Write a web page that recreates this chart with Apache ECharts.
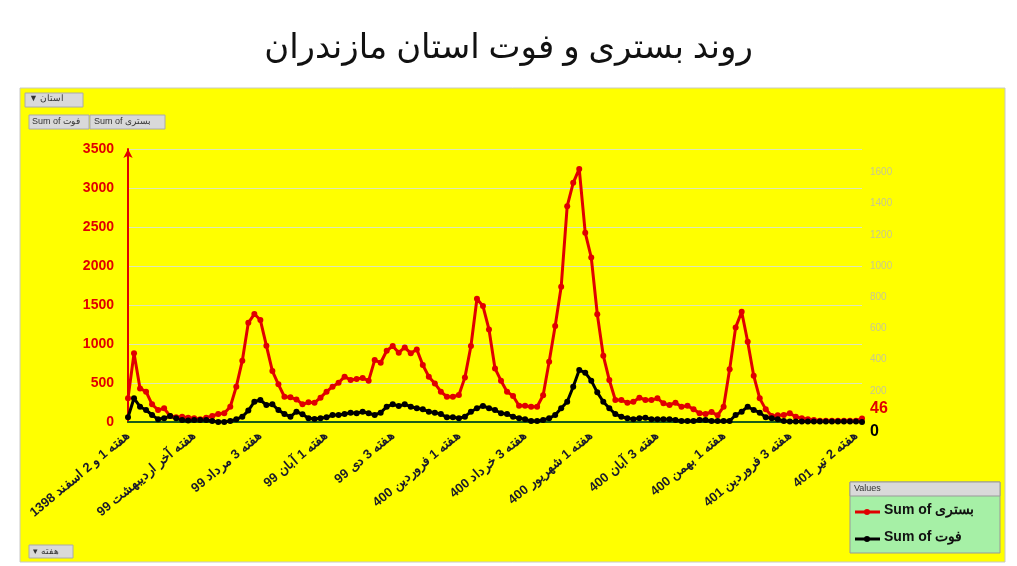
<!DOCTYPE html>
<html><head><meta charset="utf-8">
<script src="https://cdn.jsdelivr.net/npm/echarts@6/dist/echarts.min.js"></script>
<style>html,body{margin:0;padding:0;background:#fff}#c{width:1017px;height:566px}</style>
</head><body><div id="c"></div>
<script>
const tickLabels = ["هفته 1 و 2 اسفند 1398","هفته آخر اردیبهشت 99","هفته 3 مرداد 99","هفته 1 آبان 99","هفته 3 دی 99","هفته 1 فروردین 400","هفته 3 خرداد 400","هفته 1 شهریور 400","هفته 3 آبان 400","هفته 1 بهمن 400","هفته 3 فروردین 401","هفته 2 تیر 401"];
const hospitalized = [303,880,431,389,226,154,175,77,60,68,55,47,34,55,77,102,111,196,453,786,1272,1384,1307,978,653,483,324,316,290,226,252,248,312,389,453,504,581,538,551,564,530,794,
760,914,974,888,956,880,931,730,581,495,389,324,324,346,572,974,1580,1486,1187,687,530,389,333,209,209,196,196,342,773,1230,1734,2767,3066,3245,2425,2109,1383,850,538,282,282,248,
260,312,282,282,303,239,218,248,196,209,162,111,102,128,85,196,675,1213,1413,1029,594,303,162,77,85,90,111,68,47,34,26,15,15,15,15,15,15,15,46];
const deaths = [30,152,98,77,45,17,24,38,24,13,9,13,13,13,6,0,0,6,17,34,73,130,141,109,113,77,51,34,66,49,24,19,24,30,45,45,51,60,56,66,56,45,
60,98,113,103,113,98,88,81,66,60,51,30,30,24,34,66,88,103,88,77,56,51,34,24,17,6,6,13,24,45,88,130,226,333,316,265,190,130,88,51,34,24,
17,24,28,17,17,17,17,13,6,6,6,13,13,6,6,6,6,45,66,98,77,60,30,24,17,6,3,3,3,3,3,3,3,3,3,3,3,3,0];
const categories = hospitalized.map((_, i) => (i % 11 === 0 && tickLabels[i/11]) ? tickLabels[i/11] : ("w" + i));

const chart = echarts.init(document.getElementById('c'));
chart.setOption({
  backgroundColor: '#fff',
  animation: false,
  title: {text: 'روند بستری و فوت استان مازندران', left: 'center', top: 26,
    textStyle: {fontSize: 34, fontWeight: 'normal', color: '#111', fontFamily: 'Noto Sans, DejaVu Sans'}},
  graphic: [
    {type: 'rect', z: -10, shape: {x: 20, y: 88, width: 985, height: 474}, style: {fill: '#ffff00', stroke: '#c8c8c8', lineWidth: 1}},
    {type: 'rect', shape: {x: 25, y: 93, width: 58, height: 14}, style: {fill: '#d9d9d9', stroke: '#aaa'}},
    {type: 'text', style: {x: 29, y: 94, text: '▼ استان', fontSize: 9, fill: '#333'}},
    {type: 'rect', shape: {x: 29, y: 115, width: 60, height: 14}, style: {fill: '#d9d9d9', stroke: '#aaa'}},
    {type: 'text', style: {x: 32, y: 117, text: 'Sum of فوت', fontSize: 9, fill: '#333'}},
    {type: 'rect', shape: {x: 90, y: 115, width: 75, height: 14}, style: {fill: '#d9d9d9', stroke: '#aaa'}},
    {type: 'text', style: {x: 94, y: 117, text: 'Sum of بستری', fontSize: 9, fill: '#333'}},
    {type: 'rect', shape: {x: 29, y: 545, width: 44, height: 13}, style: {fill: '#d9d9d9', stroke: '#aaa'}},
    {type: 'text', style: {x: 33, y: 547, text: '▾ هفته', fontSize: 9, fill: '#333'}},
    {type: 'rect', shape: {x: 850, y: 482, width: 150, height: 71}, style: {fill: '#a6f0a6', stroke: '#999'}},
    {type: 'rect', shape: {x: 850, y: 482, width: 150, height: 14}, style: {fill: '#d9d9d9', stroke: '#999'}},
    {type: 'text', style: {x: 854, y: 484, text: 'Values', fontSize: 9, fill: '#333'}},
    {type: 'line', shape: {x1: 855, y1: 512, x2: 880, y2: 512}, style: {stroke: '#e00000', lineWidth: 3}},
    {type: 'circle', shape: {cx: 867, cy: 512, r: 3}, style: {fill: '#e00000'}},
    {type: 'text', style: {x: 884, y: 503, text: 'Sum of بستری', fontSize: 14, fontWeight: 'bold', fill: '#111'}},
    {type: 'line', shape: {x1: 855, y1: 539, x2: 880, y2: 539}, style: {stroke: '#000', lineWidth: 3}},
    {type: 'circle', shape: {cx: 867, cy: 539, r: 3}, style: {fill: '#000'}},
    {type: 'text', style: {x: 884, y: 530, text: 'Sum of فوت', fontSize: 14, fontWeight: 'bold', fill: '#111'}}
  ],
  grid: {left: 128, right: 155, top: 149, bottom: 144},
  xAxis: {type: 'category', data: categories, boundaryGap: false,
    axisLine: {lineStyle: {color: '#1a5c1a', width: 2}}, axisTick: {show: false},
    axisLabel: {interval: 10, rotate: 40, fontSize: 13, fontWeight: 'bold', color: '#1a1a2a', margin: 12,
      formatter: v => v.startsWith('w') ? '' : v}},
  yAxis: [
    {type: 'value', min: 0, max: 3500, interval: 500,
      axisLine: {show: true, lineStyle: {color: '#e00000', width: 2}, symbol: ['none', 'arrow'], symbolSize: [7, 9]},
      axisLabel: {color: '#e00000', fontWeight: 'bold', fontSize: 14, margin: 14, formatter: v => String(v)},
      splitLine: {lineStyle: {color: '#dde6b8', width: 1}}},
    {type: 'value', min: 0, max: 1750, interval: 200,
      axisLine: {show: false}, axisTick: {show: false},
      axisLabel: {color: '#c8c890', fontSize: 10, margin: 8, formatter: v => (v > 1600 || v === 0) ? '' : String(v)},
      splitLine: {show: false}}
  ],
  series: [
    {name: 'Sum of بستری', type: 'line', yAxisIndex: 0, data: hospitalized, showAllSymbol: true,
      symbol: 'circle', symbolSize: 6, lineStyle: {color: '#e00000', width: 3}, itemStyle: {color: '#e00000'},
      endLabel: {show: true, color: '#e00000', fontWeight: 'bold', fontSize: 16, offset: [0, -10], formatter: p => String(p.value)}},
    {name: 'Sum of فوت', type: 'line', yAxisIndex: 1, data: deaths, showAllSymbol: true,
      symbol: 'circle', symbolSize: 6, lineStyle: {color: '#000', width: 3}, itemStyle: {color: '#000'},
      endLabel: {show: true, color: '#000', fontWeight: 'bold', fontSize: 16, offset: [0, 10], formatter: p => String(p.value)}}
  ]
});
</script></body></html>
